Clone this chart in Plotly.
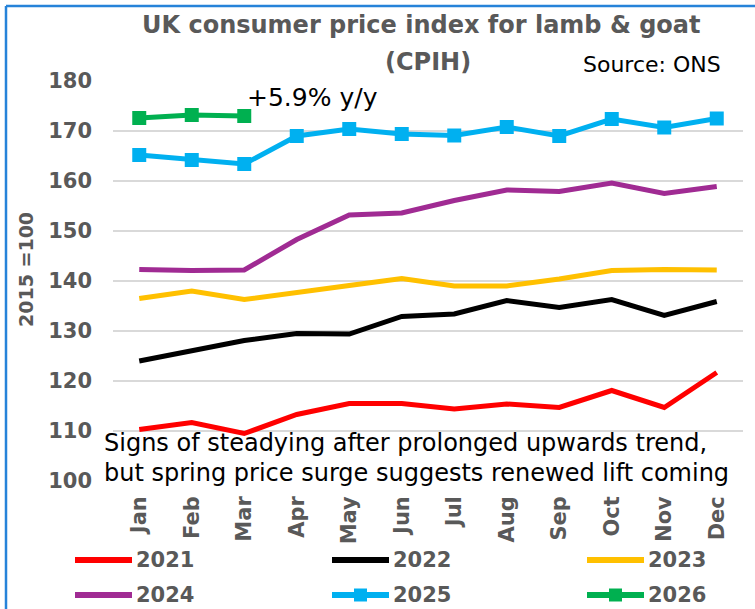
import plotly.graph_objects as go

# Monthly CPIH index values for lamb & goat (2015 = 100)
months = ["Jan", "Feb", "Mar", "Apr", "May", "Jun",
          "Jul", "Aug", "Sep", "Oct", "Nov", "Dec"]

cpih_2021 = [110.3, 111.7, 109.5, 113.3, 115.5, 115.5, 114.4, 115.4, 114.7, 118.1, 114.7, 121.7]
cpih_2022 = [124.0, 126.1, 128.1, 129.5, 129.4, 132.9, 133.4, 136.1, 134.7, 136.3, 133.1, 135.9]
cpih_2023 = [136.5, 138.0, 136.3, 137.8, 139.1, 140.5, 139.0, 139.0, 140.4, 142.1, 142.3, 142.2]
cpih_2024 = [142.3, 142.1, 142.2, 148.3, 153.2, 153.6, 156.1, 158.2, 157.9, 159.6, 157.5, 158.9]
cpih_2025 = [165.2, 164.2, 163.4, 169.0, 170.4, 169.4, 169.1, 170.8, 169.0, 172.4, 170.7, 172.5]
cpih_2026 = [172.6, 173.2, 173.0]

series = [
    ("2021", cpih_2021, "#FF0000", False),
    ("2022", cpih_2022, "#000000", False),
    ("2023", cpih_2023, "#FFC000", False),
    ("2024", cpih_2024, "#A02B93", False),
    ("2025", cpih_2025, "#00B0F0", True),
    ("2026", cpih_2026, "#00B050", True),
]

FONT = "DejaVu Sans"
GREY = "#595959"
W, H = 755, 609
ML, MR, MT, MB = 113, 12, 81, 128
PW, PH = W - ML - MR, H - MT - MB


def px(x):
    return (x - ML) / PW


def py(y):
    return (H - MB - y) / PH


fig = go.Figure()
for name, vals, color, has_marker in series:
    fig.add_trace(go.Scatter(
        x=months[:len(vals)], y=vals, name=name,
        mode="lines+markers" if has_marker else "lines",
        line=dict(color=color, width=5),
        marker=dict(symbol="square", size=14, color=color),
        showlegend=False,
    ))

annotations = [
    dict(text="<b>UK consumer price index for lamb & goat</b>", x=px(421), y=py(25),
         font=dict(size=24, color=GREY)),
    dict(text="<b>(CPIH)</b>", x=px(428), y=py(62), font=dict(size=24, color=GREY)),
    dict(text="Source: ONS", x=px(581), y=py(64), xanchor="left",
         font=dict(size=22, color="#000000")),
    dict(text="+5.9% y/y", x=px(245), y=py(97), xanchor="left",
         font=dict(size=25, color="#000000")),
    dict(text="Signs of steadying after prolonged upwards trend,", x=px(102), y=py(443),
         xanchor="left", font=dict(size=24, color="#000000")),
    dict(text="but spring price surge suggests renewed lift coming", x=px(102), y=py(473),
         xanchor="left", font=dict(size=24, color="#000000")),
    dict(text="<b>2015 =100</b>", x=px(26), y=py(270), textangle=-90,
         font=dict(size=19, color=GREY)),
]

shapes = [
    # frame edges
    dict(type="line", xref="paper", yref="paper", x0=px(6), x1=px(W + 5),
         y0=py(6), y1=py(6), line=dict(color="#2683D9", width=2.5)),
    dict(type="line", xref="paper", yref="paper", x0=px(6), x1=px(6),
         y0=py(6), y1=py(H + 5), line=dict(color="#2683D9", width=2.5)),
]

# legend laid out in a 2 x 3 grid
col_x = [75, 332, 587]
row_y = [560, 595]
for i, (name, vals, color, has_marker) in enumerate(series):
    x0 = col_x[i % 3]
    y0 = row_y[i // 3]
    shapes.append(dict(type="line", xref="paper", yref="paper",
                       x0=px(x0), x1=px(x0 + 57), y0=py(y0), y1=py(y0),
                       line=dict(color=color, width=6)))
    if has_marker:
        shapes.append(dict(type="rect", xref="paper", yref="paper",
                           x0=px(x0 + 22), x1=px(x0 + 35), y0=py(y0 - 6.5), y1=py(y0 + 6.5),
                           fillcolor=color, line=dict(width=0)))
    annotations.append(dict(text=f"<b>{name}</b>", x=px(x0 + 59), y=py(y0),
                            xanchor="left", font=dict(size=21, color=GREY)))

for a in annotations:
    a.setdefault("xref", "paper")
    a.setdefault("yref", "paper")
    a.setdefault("showarrow", False)
    a.setdefault("xanchor", "center")
    a.setdefault("yanchor", "middle")

fig.update_layout(
    width=W, height=H,
    margin=dict(l=ML, r=MR, t=MT, b=MB, autoexpand=False),
    paper_bgcolor="white", plot_bgcolor="white",
    font=dict(family=FONT, color=GREY),
    showlegend=False,
    annotations=annotations,
    shapes=shapes,
    xaxis=dict(
        type="category", categoryorder="array", categoryarray=months,
        range=[-0.5, 11.5], tickangle=-90, showgrid=False, showline=False,
        ticks="", tickfont=dict(family=FONT, size=21, color=GREY, weight="bold"),
        ticklabelstandoff=10,
    ),
    yaxis=dict(
        range=[100, 180], dtick=10, tick0=100, showgrid=True,
        gridcolor="#D9D9D9", gridwidth=1.5, zeroline=False, showline=False,
        ticks="", tickfont=dict(family=FONT, size=21, color=GREY, weight="bold"),
        ticklabelstandoff=20,
    ),
)

fig.write_html("out.html")
